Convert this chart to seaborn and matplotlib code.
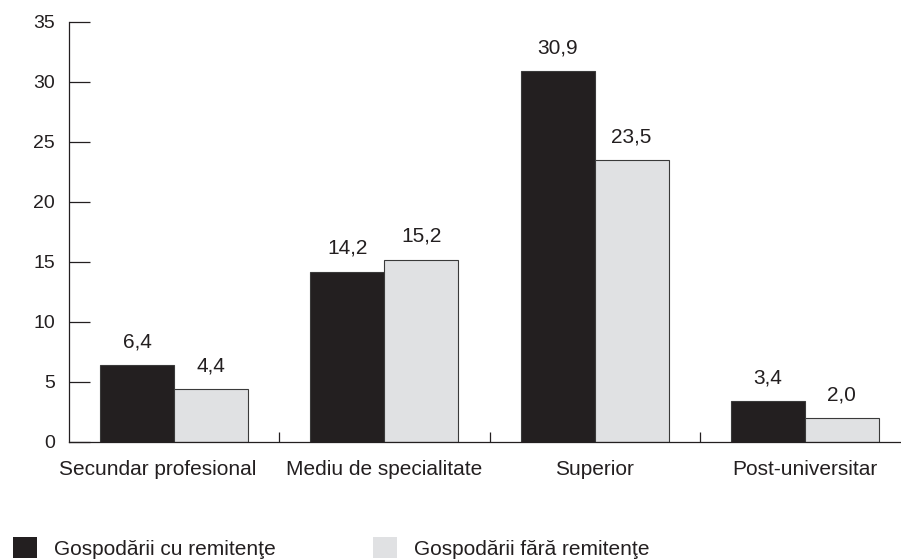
import seaborn as sns
import pandas as pd
import matplotlib.pyplot as plt
import matplotlib.transforms as mtransforms
from matplotlib.patches import Patch

categorii = ["Secundar profesional", "Mediu de specialitate", "Superior", "Post-universitar"]
cu_remitente = [6.4, 14.2, 30.9, 3.4]
fara_remitente = [4.4, 15.2, 23.5, 2.0]
grupuri = ["Gospodării cu remitenţe", "Gospodării fără remitenţe"]
culori = ["#231f20", "#e0e1e3"]

sns.set_style("white")
plt.rcParams["font.family"] = ["Liberation Sans", "DejaVu Sans"]

df = pd.DataFrame({
    "nivel": categorii * 2,
    "valoare": cu_remitente + fara_remitente,
    "grup": [grupuri[0]] * 4 + [grupuri[1]] * 4,
})

fig = plt.figure(figsize=(9.01, 5.6), dpi=100)
# axes extends a bit past the right edge, like the original
ax = fig.add_axes([69 / 901, 118 / 560, 841 / 901, 420 / 560])

sns.barplot(data=df, x="nivel", y="valoare", hue="grup", palette=culori,
            width=0.705, edgecolor="#3a3a3a", linewidth=0.8, saturation=1,
            legend=False, ax=ax)

for cont in ax.containers:
    etichete = [f"{b.get_height():.1f}".replace(".", ",") for b in cont]
    ax.bar_label(cont, labels=etichete, padding=10, fontsize=15, color="#231f20")

ax.set_xlim(-0.5, 3.5)
ax.set_ylim(0, 35)
ax.set_yticks(range(0, 36, 5))
ax.set_xlabel("")
ax.set_ylabel("")

for s in ["top", "right"]:
    ax.spines[s].set_visible(False)
for s in ["left", "bottom"]:
    ax.spines[s].set_color("#231f20")
    ax.spines[s].set_linewidth(0.9)

ax.tick_params(axis="y", direction="in", length=15, width=0.9, color="#231f20",
               pad=10, labelsize=14, labelcolor="#231f20", left=True)
ax.tick_params(axis="x", which="major", length=0, pad=13, labelsize=15,
               labelcolor="#231f20")
ax.set_xticks([0.5, 1.5, 2.5], minor=True)
ax.tick_params(axis="x", which="minor", direction="in", length=7, width=0.9,
               color="#231f20", bottom=True)

# first label sits a little left of its group in the original
prima = ax.get_xticklabels()[0]
prima.set_transform(prima.get_transform() +
                    mtransforms.ScaledTranslation(-16 / 100, 0, fig.dpi_scale_trans))

handles = [Patch(facecolor=c, edgecolor="none") for c in culori]
fig.legend(handles, grupuri, loc="center left", bbox_to_anchor=(13 / 901, 12 / 560),
           ncol=2, frameon=False, fontsize=15, handlelength=1.15, handleheight=1.15,
           handletextpad=0.8, columnspacing=4.7, borderpad=0, borderaxespad=0,
           labelcolor="#231f20")

fig.savefig("out.png", dpi=100)
